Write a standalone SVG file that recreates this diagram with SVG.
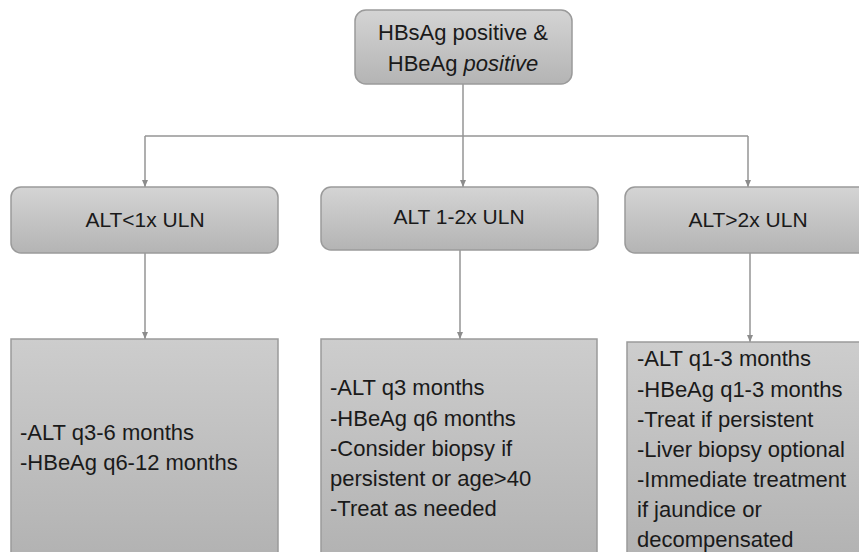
<svg xmlns="http://www.w3.org/2000/svg" width="859" height="552" viewBox="0 0 859 552">
<defs>
<linearGradient id="g" x1="0" y1="0" x2="0" y2="1">
<stop offset="0" stop-color="#d4d4d4"/>
<stop offset="1" stop-color="#b4b4b4"/>
</linearGradient>
<linearGradient id="g2" x1="0" y1="0" x2="0" y2="1">
<stop offset="0" stop-color="#cdcdcd"/>
<stop offset="1" stop-color="#b2b2b2"/>
</linearGradient>
<marker id="arr" markerWidth="8" markerHeight="8" refX="7" refY="4" orient="auto" markerUnits="userSpaceOnUse">
<path d="M0,1 L7,4 L0,7 Z" fill="#8c8c8c"/>
</marker>
</defs>
<style>
.box{fill:url(#g);stroke:#9a9a9a;stroke-width:1.5}
.tall{fill:url(#g2);stroke:#9a9a9a;stroke-width:1.5}
.c{fill:none;stroke:#959595;stroke-width:1.5}
text{font-family:"Liberation Sans",Arial,sans-serif;font-size:22px;fill:#1a1a1a}
.m{text-anchor:middle}
.s{font-size:21px}
</style>
<rect width="859" height="552" fill="#ffffff"/>
<g id="connectors">
<path class="c" d="M463,84 V136"/>
<path class="c" d="M145,136 H748"/>
<path class="c" d="M145,136 V187" marker-end="url(#arr)"/>
<path class="c" d="M463,136 V187" marker-end="url(#arr)"/>
<path class="c" d="M748,136 V187" marker-end="url(#arr)"/>
<path class="c" d="M145,253 V339" marker-end="url(#arr)"/>
<path class="c" d="M460,250 V339" marker-end="url(#arr)"/>
<path class="c" d="M750,253 V342" marker-end="url(#arr)"/>
</g>
<g id="root">
<rect class="box" x="355" y="10" width="217" height="74" rx="11"/>
<text class="m" x="463" y="40">HBsAg positive &amp;</text>
<text class="m" x="463" y="71">HBeAg <tspan font-style="italic">positive</tspan></text>
</g>
<g id="alt-low">
<rect class="box" x="11" y="187" width="267" height="66" rx="10"/>
<text class="m s" x="145" y="227">ALT&lt;1x ULN</text>
</g>
<g id="alt-mid">
<rect class="box" x="321" y="187" width="277" height="63" rx="10"/>
<text class="m s" x="459" y="224">ALT 1-2x ULN</text>
</g>
<g id="alt-high">
<rect class="box" x="625" y="187" width="250" height="66" rx="10"/>
<text class="m s" x="748" y="227">ALT&gt;2x ULN</text>
</g>
<g id="low-plan">
<rect class="tall" x="11" y="339" width="267" height="220"/>
<text x="20" y="440">-ALT q3-6 months</text>
<text x="20" y="470">-HBeAg q6-12 months</text>
</g>
<g id="mid-plan">
<rect class="tall" x="321" y="339" width="276" height="220"/>
<text x="330" y="395">-ALT q3 months</text>
<text x="330" y="426">-HBeAg q6 months</text>
<text x="330" y="456">-Consider biopsy if</text>
<text x="330" y="486">persistent or age&gt;40</text>
<text x="330" y="516">-Treat as needed</text>
</g>
<g id="high-plan">
<rect class="tall" x="627" y="342" width="250" height="220"/>
<text x="637" y="366">-ALT q1-3 months</text>
<text x="637" y="397">-HBeAg q1-3 months</text>
<text x="637" y="427">-Treat if persistent</text>
<text x="637" y="457">-Liver biopsy optional</text>
<text x="637" y="487">-Immediate treatment</text>
<text x="637" y="517">if jaundice or</text>
<text x="637" y="547">decompensated</text>
</g>
</svg>
